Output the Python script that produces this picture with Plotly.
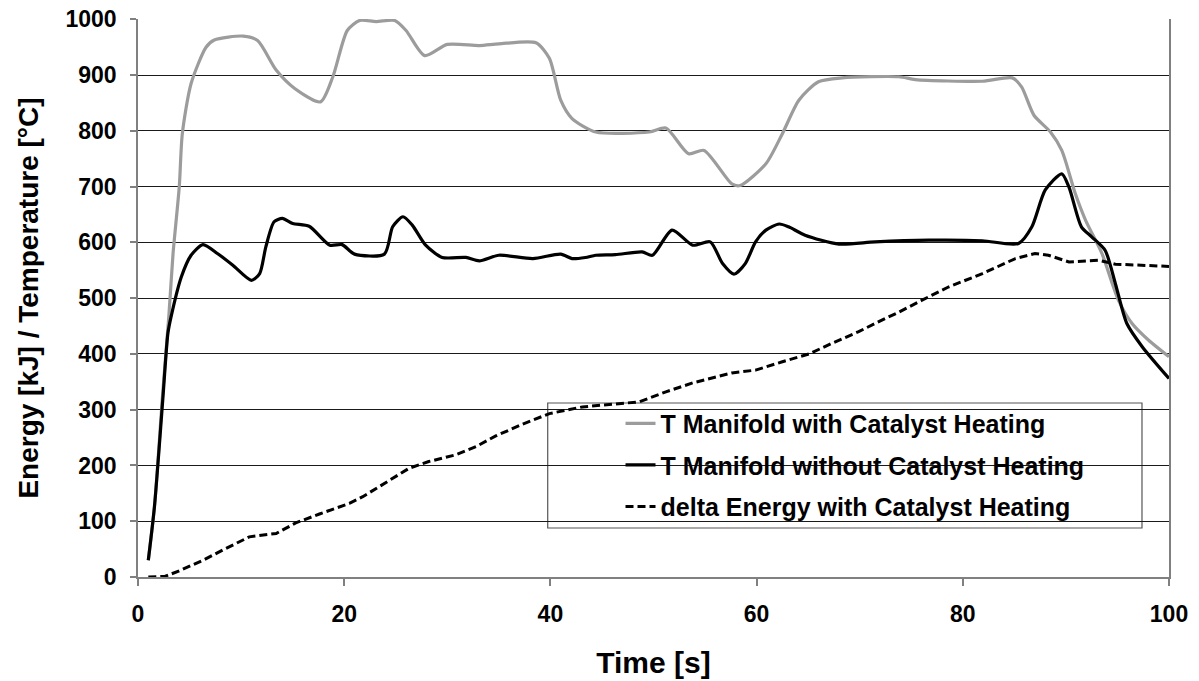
import plotly.graph_objects as go

# Gray: T Manifold with Catalyst Heating
time_with = [1.0, 1.6, 2.4, 3.0, 3.4, 4.0, 4.3, 5.15, 6.6, 7.4, 10.2, 11.6, 13.4, 15.2, 17.7, 18.9,
             20.3, 21.5, 23.1, 24.9, 26.0, 27.8, 30.0, 33.1, 35.0, 38.6, 39.9, 41.0, 42.1, 44.4,
             49.6, 51.2, 53.4, 54.9, 57.6, 58.4, 60.9, 62.5, 64.1, 66.0, 68.3, 73.8, 75.4, 81.9,
             84.8, 85.7, 86.9, 88.5, 89.6, 90.9, 91.9, 93.5, 94.5, 95.1, 96.4, 98.0, 100.0]
temp_with = [30, 127, 330, 470, 580, 699, 795, 885, 950, 963, 970, 962, 909, 876, 852, 897,
             980, 998, 996, 998, 980, 935, 955, 953, 956, 958, 930, 855, 822, 798,
             798, 805, 759, 765, 705, 702, 741, 795, 855, 888, 895, 897, 892, 889,
             895, 879, 828, 798, 765, 688, 640, 580, 526, 496, 455, 425, 395]

# Black: T Manifold without Catalyst Heating
time_without = [1.0, 1.6, 2.4, 2.9, 3.2, 4.2, 5.15, 6.3, 7.7, 9.2, 11.0, 11.8, 12.4, 13.2, 14.0,
                15.0, 16.6, 18.6, 19.8, 21.0, 23.9, 24.7, 25.7, 26.6, 27.9, 29.5, 31.8, 33.1,
                35.0, 38.3, 41.0, 42.1, 43.4, 44.4, 46.3, 48.9, 49.9, 51.8, 53.8, 55.5, 56.7,
                57.8, 58.9, 59.9, 60.9, 62.2, 63.1, 64.7, 68.0, 71.5, 76.7, 81.9, 85.4, 86.7,
                88.0, 89.6, 90.3, 91.5, 92.5, 93.8, 94.8, 95.9, 97.4, 100.0]
temp_without = [30, 127, 317, 437, 466, 538, 577, 596, 580, 559, 532, 544, 592, 637, 643,
                634, 629, 595, 596, 579, 579, 628, 646, 631, 595, 573, 573, 567,
                577, 571, 579, 571, 573, 577, 578, 583, 577, 622, 595, 601, 562,
                543, 562, 601, 622, 633, 628, 613, 597, 601, 604, 603, 598, 628,
                694, 723, 699, 628, 610, 586, 526, 455, 413, 356]

# Dashed: delta Energy with Catalyst Heating
time_energy = [1.0, 2.6, 4.0, 6.3, 8.5, 10.8, 13.4, 15.3, 17.6, 20.5, 21.8, 24.4, 26.3, 28.2,
               30.8, 32.8, 34.7, 37.3, 39.9, 43.1, 46.3, 48.6, 51.2, 53.8, 57.6, 59.9, 62.5,
               65.1, 67.3, 69.9, 72.2, 73.8, 76.0, 78.6, 81.9, 85.1, 87.0, 88.3, 90.3, 93.2,
               94.8, 100.0]
delta_energy = [0, 1, 11, 30, 51, 72, 78, 97, 113, 132, 144, 174, 195, 207,
                219, 234, 253, 274, 293, 305, 310, 314, 332, 348, 366, 371, 386,
                400, 419, 440, 461, 475, 496, 520, 544, 571, 580, 577, 565, 568,
                561, 557]

x_ticks = [0, 20, 40, 60, 80, 100]
y_ticks = [0, 100, 200, 300, 400, 500, 600, 700, 800, 900, 1000]

FONT = "Liberation Sans, Arial, sans-serif"

fig = go.Figure()
fig.add_trace(go.Scatter(x=time_with, y=temp_with, mode="lines",
                         name="T Manifold with Catalyst Heating", legendgroup="a",
                         line=dict(color="#9c9c9c", width=3.2, shape="spline", smoothing=0.7)))
fig.add_trace(go.Scatter(x=time_without, y=temp_without, mode="lines",
                         name="T Manifold without Catalyst Heating", legendgroup="b",
                         line=dict(color="#000000", width=3.2, shape="spline", smoothing=0.7)))
fig.add_trace(go.Scatter(x=time_energy, y=delta_energy, mode="lines",
                         name="delta Energy with Catalyst Heating", legendgroup="c",
                         line=dict(color="#000000", width=3, dash="8px,4px")))

fig.update_layout(
    width=1199, height=681,
    margin=dict(l=138, r=30, t=19, b=104),
    paper_bgcolor="white", plot_bgcolor="white",
    font=dict(family=FONT, color="black"),
    showlegend=True,
    legend=dict(x=0.468, y=0.316, xanchor="left", yanchor="top",
                bgcolor="rgba(0,0,0,0)", borderwidth=0,
                font=dict(size=25, weight="bold", family=FONT),
                traceorder="grouped", tracegroupgap=6),
    shapes=[dict(type="rect", xref="paper", yref="paper",
                 x0=0.3974, x1=0.9738, y0=0.0878, y1=0.3118,
                 fillcolor="white", line=dict(color="#555555", width=1.2),
                 layer="between")],
    xaxis=dict(range=[0, 100], tickvals=x_ticks, showgrid=False, zeroline=False,
               showline=True, linecolor="#808080", linewidth=1.5, automargin=False,
               ticks="outside", ticklen=7, tickcolor="#808080", tickwidth=1.5,
               tickfont=dict(size=23, weight="bold", family=FONT),
               ticklabelstandoff=9, ticklabeloverflow="allow",
               title=dict(text="Time [s]", font=dict(size=30, weight="bold", family=FONT),
                          standoff=26)),
    yaxis=dict(range=[0, 1000.6], tickvals=y_ticks, showgrid=True, gridcolor="#1a1a1a",
               gridwidth=1, zeroline=False, showline=True, linecolor="#808080",
               linewidth=1.5, mirror=True, automargin=False,
               ticks="outside", ticklen=6, tickcolor="#808080", tickwidth=1.5,
               tickfont=dict(size=23, weight="bold", family=FONT),
               ticklabelstandoff=9, ticklabeloverflow="allow",
               title=dict(text="Energy [kJ] / Temperature [°C]",
                          font=dict(size=28, weight="bold", family=FONT), standoff=19)),
)

fig.write_html("out.html", config={"displayModeBar": False},
               post_script="document.body.style.margin='0';")
